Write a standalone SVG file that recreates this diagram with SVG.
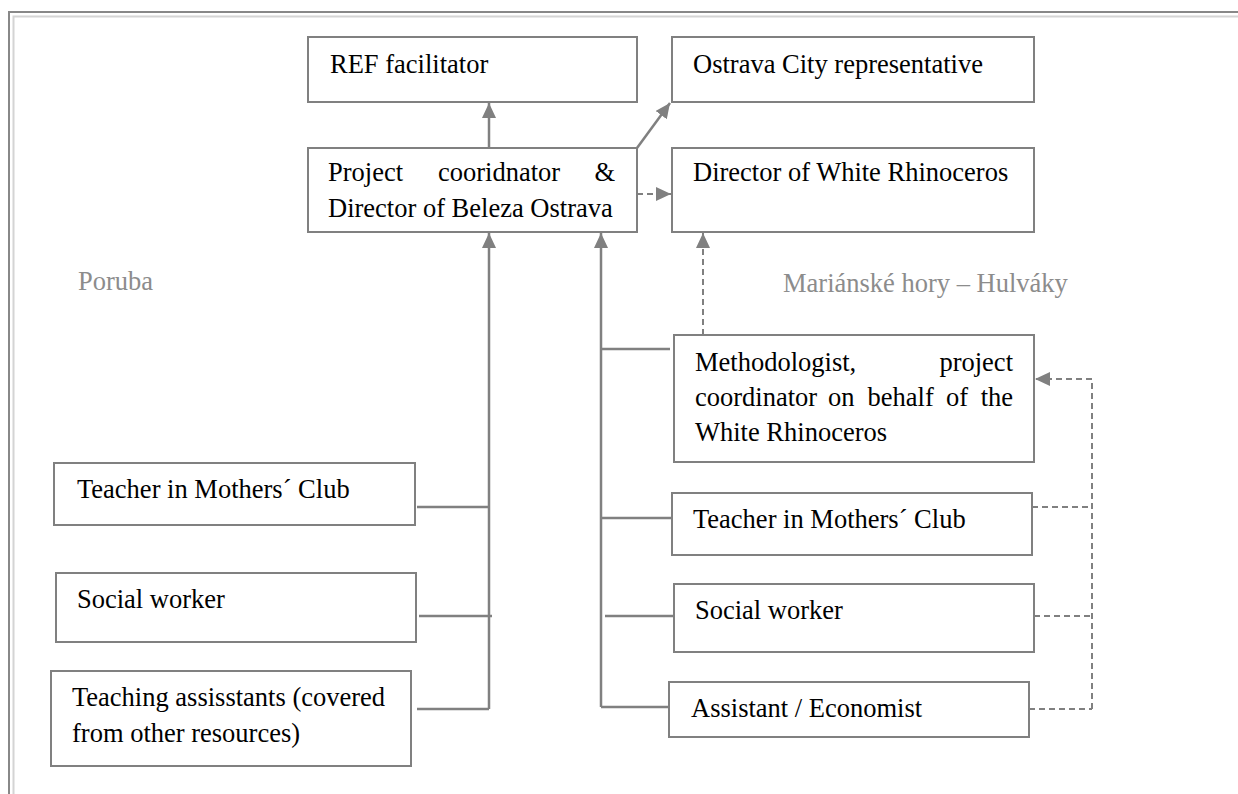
<svg xmlns="http://www.w3.org/2000/svg" width="1238" height="794" viewBox="0 0 1238 794">
<style>
.box{fill:#fff;stroke:#808080;stroke-width:2}
.t{font-family:"Liberation Serif","Times New Roman",serif;font-size:26.5px;fill:#000}
.g{font-family:"Liberation Serif","Times New Roman",serif;font-size:26.5px;fill:#8c8c8c}
.ln{fill:none;stroke:#808080;stroke-width:2.5}
.dl{fill:none;stroke:#808080;stroke-width:2;stroke-dasharray:6 4}
</style>
<defs>
<marker id="ah" markerUnits="userSpaceOnUse" markerWidth="15" markerHeight="14" refX="15" refY="7" orient="auto">
<path d="M0,0 L15,7 L0,14 z" fill="#808080"/>
</marker>
</defs>
<rect width="1238" height="794" fill="#fff"/>
<g id="frame">
<path d="M9,794 V12 H1238" fill="none" stroke="#888" stroke-width="2"/>
<path d="M13.5,794 V16.5 H1238" fill="none" stroke="#d4d4d4" stroke-width="2"/>
</g>
<g id="connectors">
<line class="ln" x1="489" y1="148" x2="489" y2="103" marker-end="url(#ah)"/>
<line class="ln" x1="637" y1="148" x2="670" y2="103" marker-end="url(#ah)"/>
<line class="dl" x1="637" y1="194" x2="671" y2="194" marker-end="url(#ah)"/>
<line class="ln" x1="489" y1="709" x2="489" y2="233" marker-end="url(#ah)"/>
<line class="ln" x1="417" y1="507" x2="489" y2="507"/>
<line class="ln" x1="419" y1="616" x2="492" y2="616"/>
<line class="ln" x1="417" y1="709" x2="489" y2="709"/>
<line class="ln" x1="601" y1="707" x2="601" y2="233" marker-end="url(#ah)"/>
<line class="ln" x1="601" y1="349" x2="670" y2="349"/>
<line class="ln" x1="601" y1="518" x2="675" y2="518"/>
<line class="ln" x1="605" y1="616" x2="677" y2="616"/>
<line class="ln" x1="601" y1="707" x2="670" y2="707"/>
<line class="dl" x1="703" y1="335" x2="703" y2="233" marker-end="url(#ah)"/>
<line class="dl" x1="1032" y1="507" x2="1092" y2="507"/>
<line class="dl" x1="1034" y1="616" x2="1092" y2="616"/>
<line class="dl" x1="1029" y1="709" x2="1092" y2="709"/>
<polyline class="dl" points="1092,709 1092,379 1035,379" marker-end="url(#ah)"/>
</g>
<g id="ref-facilitator">
<rect class="box" x="308" y="37" width="329" height="65"/>
<text class="t" x="330" y="73">REF facilitator</text>
</g>
<g id="ostrava-city">
<rect class="box" x="672" y="37" width="362" height="65"/>
<text class="t" x="693" y="73">Ostrava City representative</text>
</g>
<g id="project-coordinator">
<rect class="box" x="308" y="148" width="329" height="84"/>
<text class="t" y="181"><tspan x="328">Project</tspan><tspan x="438">cooridnator</tspan><tspan x="615" text-anchor="end">&amp;</tspan></text>
<text class="t" x="328" y="217">Director of Beleza Ostrava</text>
</g>
<g id="director-white-rhinoceros">
<rect class="box" x="672" y="148" width="362" height="84"/>
<text class="t" x="693" y="181">Director of White Rhinoceros</text>
</g>
<g id="label-poruba">
<text class="g" x="78" y="290">Poruba</text>
</g>
<g id="label-marianske">
<text class="g" x="783" y="292">Mariánské hory – Hulváky</text>
</g>
<g id="methodologist">
<rect class="box" x="674" y="335" width="360" height="127"/>
<text class="t" y="371"><tspan x="695">Methodologist,</tspan><tspan x="1013" text-anchor="end">project</tspan></text>
<text class="t" y="406"><tspan x="695">coordinator</tspan><tspan x="828">on</tspan><tspan x="867.5">behalf</tspan><tspan x="946">of</tspan><tspan x="1013" text-anchor="end">the</tspan></text>
<text class="t" x="695" y="441">White Rhinoceros</text>
</g>
<g id="poruba-teacher">
<rect class="box" x="54" y="463" width="361" height="62"/>
<text class="t" x="77" y="498">Teacher in Mothers´ Club</text>
</g>
<g id="poruba-social-worker">
<rect class="box" x="56" y="573" width="360" height="69"/>
<text class="t" x="77" y="608">Social worker</text>
</g>
<g id="poruba-teaching-assistants">
<rect class="box" x="51" y="671" width="360" height="95"/>
<text class="t" x="72" y="706">Teaching assisstants (covered</text>
<text class="t" x="72" y="742">from other resources)</text>
</g>
<g id="mh-teacher">
<rect class="box" x="672" y="493" width="360" height="62"/>
<text class="t" x="693" y="528">Teacher in Mothers´ Club</text>
</g>
<g id="mh-social-worker">
<rect class="box" x="674" y="584" width="360" height="68"/>
<text class="t" x="695" y="619">Social worker</text>
</g>
<g id="mh-assistant">
<rect class="box" x="669" y="682" width="360" height="55"/>
<text class="t" x="691" y="717">Assistant / Economist</text>
</g>
</svg>
